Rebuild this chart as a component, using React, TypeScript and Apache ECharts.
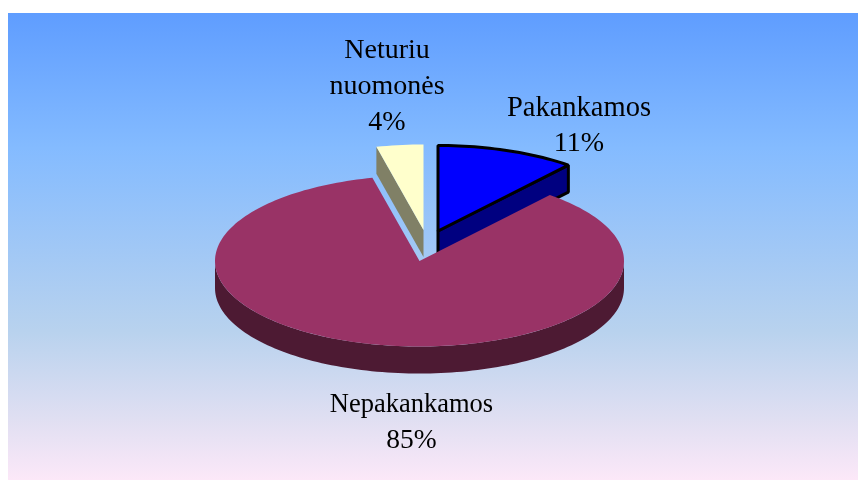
import React, { useEffect, useRef } from "react";
import * as echarts from "echarts";

const categories = ["Pakankamos", "Nepakankamos", "Neturiu nuomonės"];
const values = [11, 85.3, 3.7];
const percentLabels = ["11%", "85%", "4%"];
const labelLines = [["Pakankamos"], ["Nepakankamos"], ["Neturiu", "nuomonės"]];
const topColors = ["#0000FF", "#993366", "#FFFFCC"];
const sideColors = ["#000080", "#4D1A33", "#808066"];

// layout only
const paintOrder = [2, 0, 1];
const apex = [
  [438, 231],
  [419.5, 261],
  [423.5, 230],
];
const labelCenter = [
  [579, 106],
  [411.5, 403],
  [387, 48],
];
const labelFontSizes = [
  [28.5, 28],
  [26.5, 27.5],
  [28, 28, 28],
];
const lineHeights = [35, 35, 36];
const RX = 204.5;
const RY = 85.5;
const DEPTH = 27;
const FONT = "'Liberation Serif', 'Times New Roman', serif";

const total = values.reduce((a, b) => a + b, 0);
const startAngle = (i: number) => {
  let a = 90;
  for (let k = 0; k < i; k++) a -= (values[k] / total) * 360;
  return a;
};

const rim = (c: number[], from: number, to: number, dy = 0) => {
  const pts: number[][] = [];
  const n = Math.max(2, Math.ceil(Math.abs(from - to) / 1.5));
  for (let j = 0; j <= n; j++) {
    const t = ((from + ((to - from) * j) / n) * Math.PI) / 180;
    pts.push([c[0] + RX * Math.cos(t), c[1] - RY * Math.sin(t) + dy]);
  }
  return pts;
};

const renderItem = (_params: any, api: any) => {
  const i = api.value(0) as number;
  const from = startAngle(i);
  const to = from - (api.value(1) / total) * 360;
  const c = apex[i];
  const outline = i === 0 ? { stroke: "#000", lineWidth: 3, lineJoin: "bevel" } : { stroke: "none" };
  const children: any[] = [];
  const poly = (points: number[][], fill: string) =>
    children.push({ type: "polygon", shape: { points }, style: { fill, ...outline } });

  if (i === 1) {
    // front wall of the big slice
    const front = rim(c, 0, -180);
    poly([...front, ...rim(c, -180, 0, DEPTH)], sideColors[i]);
  } else {
    // cut face that looks towards the viewer
    const edge = i === 0 ? to : from;
    const t = (edge * Math.PI) / 180;
    const p = [c[0] + RX * Math.cos(t), c[1] - RY * Math.sin(t)];
    poly([p, c, [c[0], c[1] + DEPTH], [p[0], p[1] + DEPTH]], sideColors[i]);
  }
  poly([c, ...rim(c, from, to)], topColors[i]);

  const [lx, ly] = labelCenter[i];
  [...labelLines[i], percentLabels[i]].forEach((text, k) => {
    children.push({
      type: "text",
      x: lx,
      y: ly + k * lineHeights[i],
      style: {
        text,
        fill: "#000",
        font: `${labelFontSizes[i][k]}px ${FONT}`,
        align: "center",
        verticalAlign: "middle",
      },
    });
  });
  return { type: "group", children };
};

export default function App() {
  const ref = useRef<HTMLDivElement>(null);
  useEffect(() => {
    const chart = echarts.init(ref.current!, null, { renderer: "svg" });
    chart.setOption({
      animation: false,
      graphic: [
        {
          type: "rect",
          z: 0,
          shape: { x: 8, y: 13, width: 850, height: 467 },
          style: {
            fill: new echarts.graphic.LinearGradient(0, 0, 0, 1, [
              { offset: 0, color: "#5F9DFF" },
              { offset: 0.29, color: "#84BBFF" },
              { offset: 0.68, color: "#B8D2EE" },
              { offset: 0.87, color: "#E0DFF2" },
              { offset: 1, color: "#FCE8F8" },
            ]),
          },
        },
      ],
      series: [
        {
          type: "custom",
          coordinateSystem: "none",
          renderItem,
          z: 5,
          data: paintOrder.map((i) => ({ name: categories[i], value: [i, values[i]] })),
        },
      ],
    });
    return () => chart.dispose();
  }, []);
  return <div ref={ref} style={{ position: "fixed", left: 0, top: 0, width: 858, height: 480 }} />;
}
